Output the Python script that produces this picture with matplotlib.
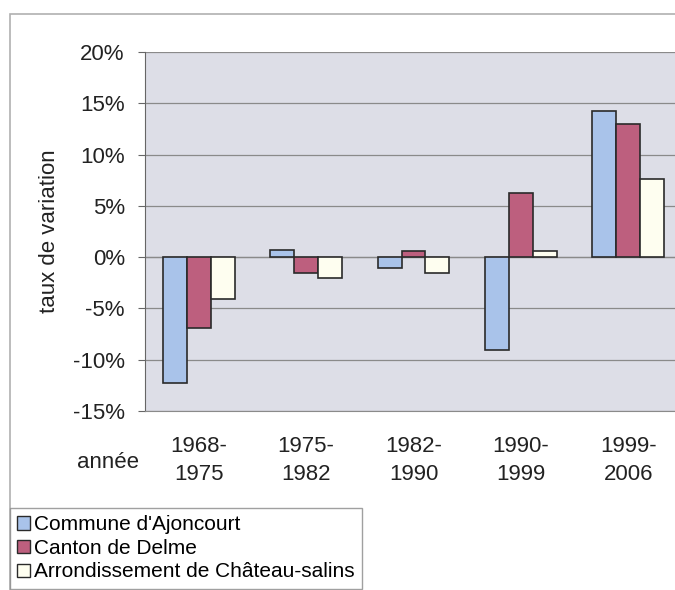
import matplotlib
matplotlib.use("Agg")
import matplotlib.pyplot as plt
import numpy as np
from matplotlib.patches import Rectangle, Patch

categories = ["1968-\n1975", "1975-\n1982", "1982-\n1990", "1990-\n1999", "1999-\n2006"]
series_names = ["Commune d'Ajoncourt", "Canton de Delme", "Arrondissement de Château-salins"]
ajoncourt = [-12.3, 0.7, -1.1, -9.1, 14.2]
delme = [-6.9, -1.5, 0.6, 6.3, 13.0]
chateau = [-4.1, -2.0, -1.5, 0.6, 7.6]
yticks = [-15, -10, -5, 0, 5, 10, 15, 20]

colors = ["#a9c3ea", "#bd5f7e", "#fefef0"]

plt.rcParams['font.family'] = ['Liberation Sans', 'DejaVu Sans']

W, H = 675, 590
fig = plt.figure(figsize=(W / 100, H / 100), dpi=100)

# outer chart border
fig.patches.append(Rectangle((10 / W, -0.05), 1.0, 1 - 14 / H + 0.05, transform=fig.transFigure,
                             fill=False, edgecolor="#b0b0b0", linewidth=1.2))

ax = fig.add_axes([145 / W, 1 - 411 / H, 537 / W, (411 - 52) / H])
ax.set_facecolor("#dddee7")

x = np.arange(len(categories))
bw = 0.223
for i, (vals, col) in enumerate(zip([ajoncourt, delme, chateau], colors)):
    ax.bar(x + (i - 1) * bw, vals, width=bw, color=col, edgecolor="#2a2a2a", linewidth=1.2, zorder=3)

ax.set_xlim(-0.5, 4.5)
ax.set_ylim(-15, 20)
ax.set_yticks(yticks)
ax.set_yticklabels([f"{v}%" for v in yticks], fontsize=16, color="#222222")
ax.yaxis.grid(True, color="#8a8a8a", linewidth=0.9, zorder=0)
ax.axhline(0, color="#8a8a8a", linewidth=0.9, zorder=1)

ax.set_xticks(x)
ax.set_xticklabels(categories, fontsize=16, color="#222222", linespacing=1.45)
ax.tick_params(axis='x', length=0, pad=18)
ax.tick_params(axis='y', length=5, color="#666666", pad=9.5)

for s in ["top", "right"]:
    ax.spines[s].set_visible(False)
ax.spines["left"].set_color("#666666")
ax.spines["bottom"].set_color("#8a8a8a")

ax.set_ylabel("taux de variation", fontsize=16, color="#222222", labelpad=9)

fig.text(108 / W, 1 - 462 / H, "année", fontsize=16, color="#222222", ha="center", va="center")

handles = [Patch(facecolor=c, edgecolor="#2a2a2a", linewidth=1.0) for c in colors]
leg = fig.legend(handles, series_names, loc="upper left",
                 bbox_to_anchor=(10 / W, 1 - 508 / H), fontsize=15,
                 frameon=True, fancybox=False, edgecolor="#888888",
                 handlelength=0.6, handleheight=0.6, handletextpad=0.2,
                 labelspacing=0.22, borderpad=0.35, borderaxespad=0)
leg.get_frame().set_linewidth(1.0)

fig.savefig("out.png", dpi=100)
